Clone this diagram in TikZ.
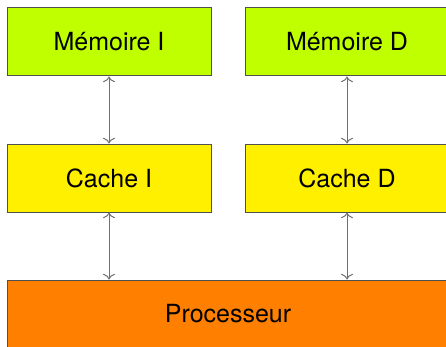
\documentclass[tikz,border=0pt]{standalone}
\usepackage{fontspec}
\setmainfont{TeX Gyre Heros}
\usetikzlibrary{arrows.meta}
\definecolor{memgreen}{HTML}{BFFF00}
\definecolor{cacheyellow}{HTML}{FFF000}
\definecolor{cpuorange}{HTML}{FF8000}
\definecolor{edgegray}{HTML}{505050}
\definecolor{linkgray}{HTML}{707070}
\tikzset{
  unit/.style={draw=edgegray, line width=1pt, minimum width=204pt, minimum height=68pt,
    inner sep=0pt, font=\fontsize{25}{30}\selectfont},
  link/.style={draw=linkgray, line width=1pt, {To[scale=1.5]}-{To[scale=1.5]}}
}
\begin{document}
\begin{tikzpicture}[x=1pt,y=1pt]
\useasboundingbox (0,0) rectangle (446,346);
% Speicher
\node[unit, fill=memgreen] (memI) at (109,304) {Mémoire I};
\node[unit, fill=memgreen] (memD) at (347,304) {Mémoire D};
% Caches
\node[unit, fill=cacheyellow] (cacheI) at (109,168) {Cache I};
\node[unit, fill=cacheyellow] (cacheD) at (347,168) {Cache D};
% Prozessor
\node[unit, fill=cpuorange, minimum width=442pt] (cpu) at (228,32) {Processeur};
% Verbindungen
\draw[link] (memI.south) -- (cacheI.north);
\draw[link] (memD.south) -- (cacheD.north);
\draw[link] (cacheI.south) -- (cacheI.south |- cpu.north);
\draw[link] (cacheD.south) -- (cacheD.south |- cpu.north);
\end{tikzpicture}
\end{document}
